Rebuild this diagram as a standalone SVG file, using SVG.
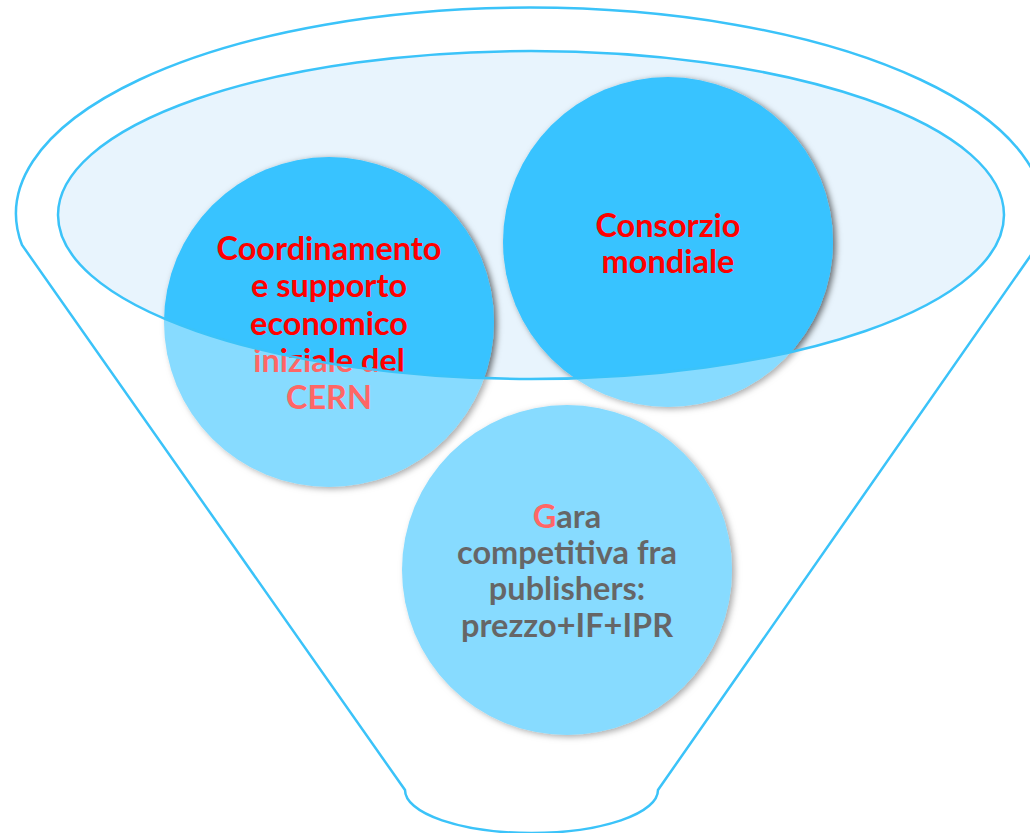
<svg xmlns="http://www.w3.org/2000/svg" width="1030" height="833" viewBox="0 0 1030 833">
<defs>
<style>
.ln{fill:none;stroke:#3BC3F9;stroke-width:2.5}
.circ{fill:#38C3FF;filter:url(#sh)}
.t{font-family:Lato,"Liberation Sans",sans-serif;font-weight:700;font-size:32.5px;text-anchor:middle}
.red{fill:#FF0000}
.blk{fill:#000000}
</style>
<filter id="sh" x="-20%" y="-20%" width="140%" height="140%">
<feDropShadow dx="3" dy="2" stdDeviation="3" flood-color="#000" flood-opacity="0.55"/>
</filter>
</defs>
<rect width="1030" height="833" fill="#FFFFFF"/>
<g id="funnel">
<path d="M22,245 A514,206 0 1 1 1038,245 L658,790 A126.5,43 0 0 1 405,790 Z" fill="#FFFFFF"/>
<ellipse cx="531" cy="215" rx="473" ry="164" fill="#E8F4FD"/>
</g>
<g id="node-cern">
<circle class="circ" cx="329" cy="322" r="165"/>
<text class="t red"><tspan x="329" y="260">Coordinamento</tspan><tspan x="329" y="297">e supporto</tspan><tspan x="329" y="335">economico</tspan><tspan x="329" y="372">iniziale del</tspan><tspan x="329" y="409">CERN</tspan></text>
</g>
<g id="node-consorzio">
<circle class="circ" cx="668" cy="242" r="165"/>
<text class="t red"><tspan x="668" y="237">Consorzio</tspan><tspan x="668" y="273">mondiale</tspan></text>
</g>
<g id="node-gara">
<circle class="circ" cx="567" cy="570" r="165"/>
<text class="t blk"><tspan x="567" y="528"><tspan class="red">G</tspan>ara</tspan><tspan x="567" y="564">competitiva fra</tspan><tspan x="567" y="600">publishers:</tspan><tspan x="567" y="637">prezzo+IF+IPR</tspan></text>
</g>
<g id="overlay">
<path fill="#FFFFFF" fill-opacity="0.4" fill-rule="evenodd" d="M22,245 A514,206 0 1 1 1038,245 L658,790 A126.5,43 0 0 1 405,790 Z M58,215 A473,164 0 1 0 1004,215 A473,164 0 1 0 58,215 Z"/>
</g>
<g id="connectors">
<path class="ln" d="M22,245 A514,206 0 1 1 1038,245 L658,790 A126.5,43 0 0 1 405,790 Z"/>
<ellipse class="ln" cx="531" cy="215" rx="473" ry="164"/>
</g>
</svg>
